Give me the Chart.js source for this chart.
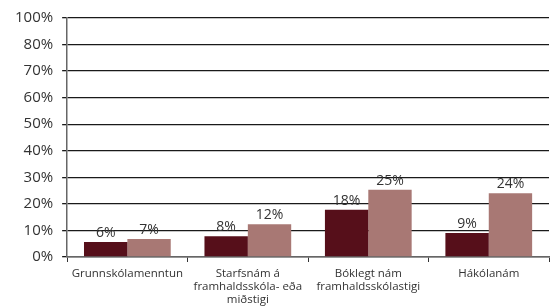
<!DOCTYPE html>
<html><head><meta charset="utf-8">
<script src="https://cdn.jsdelivr.net/npm/chart.js@4"></script>
<style>html,body{margin:0;padding:0;background:#fff}#w{width:554px;height:308px}</style>
</head><body><div id="w"><canvas id="c"></canvas></div>
<script>
const categories = [
  "Grunnskólamenntun",
  ["Starfsnám á", "framhaldsskóla- eða", "miðstigi"],
  ["Bóklegt nám", "framhaldsskólastigi"],
  "Hákólanám"
];
const seriesA = [5.7, 7.8, 17.8, 9.0];
const seriesB = [6.8, 12.3, 25.3, 24.0];
const labelsA = ["6%", "8%", "18%", "9%"];
const labelsB = ["7%", "12%", "25%", "24%"];
const yTickValues = [0, 10, 20, 30, 40, 50, 60, 70, 80, 90];
const yTickLabels = ["0%", "10%", "20%", "30%", "40%", "50%", "60%", "70%", "80%", "100%"];

const FONT = "'Open Sans', sans-serif";
const valueLabels = {
  id: 'valueLabels',
  afterDatasetsDraw(chart) {
    const ctx = chart.ctx;
    ctx.save();
    ctx.font = "14px " + FONT;
    ctx.fillStyle = "#333";
    ctx.textAlign = "center";
    ctx.textBaseline = "bottom";
    const sets = [labelsA, labelsB];
    chart.data.datasets.forEach((ds, di) => {
      chart.getDatasetMeta(di).data.forEach((bar, i) => {
        ctx.fillText(sets[di][i], bar.x, bar.y - 2);
      });
    });
    ctx.restore();
  }
};

new Chart(document.getElementById('c'), {
  type: 'bar',
  data: {
    labels: categories,
    datasets: [
      { data: seriesA, backgroundColor: '#560f1a', categoryPercentage: 0.72, barPercentage: 1 },
      { data: seriesB, backgroundColor: '#a87874', categoryPercentage: 0.72, barPercentage: 1 }
    ]
  },
  options: {
    responsive: true, maintainAspectRatio: false, animation: false,
    devicePixelRatio: 1,
    layout: { padding: { top: 14, right: 5, left: 6, bottom: 0 } },
    plugins: { legend: { display: false }, tooltip: { enabled: false } },
    scales: {
      x: {
        afterFit(axis) { axis.height -= 3; },
        grid: { display: true, drawOnChartArea: false, offset: true, tickLength: 5, color: '#333', lineWidth: 1 },
        border: { color: '#666', width: 1.5 },
        ticks: { color: '#333', font: { family: FONT, size: 11.5, lineHeight: 1.13 }, maxRotation: 0, autoSkip: false, padding: 5 }
      },
      y: {
        min: 0, max: 90,
        afterBuildTicks(axis) { axis.ticks = yTickValues.map(v => ({ value: v })); },
        grid: { color: '#1a1a1a', lineWidth: 1.3, tickLength: 5 },
        border: { color: '#666', width: 1.5 },
        ticks: {
          color: '#333', font: { family: FONT, size: 15 }, padding: 9,
          callback: (v) => yTickLabels[yTickValues.indexOf(v)]
        }
      }
    }
  },
  plugins: [valueLabels]
});
</script>
</body></html>
